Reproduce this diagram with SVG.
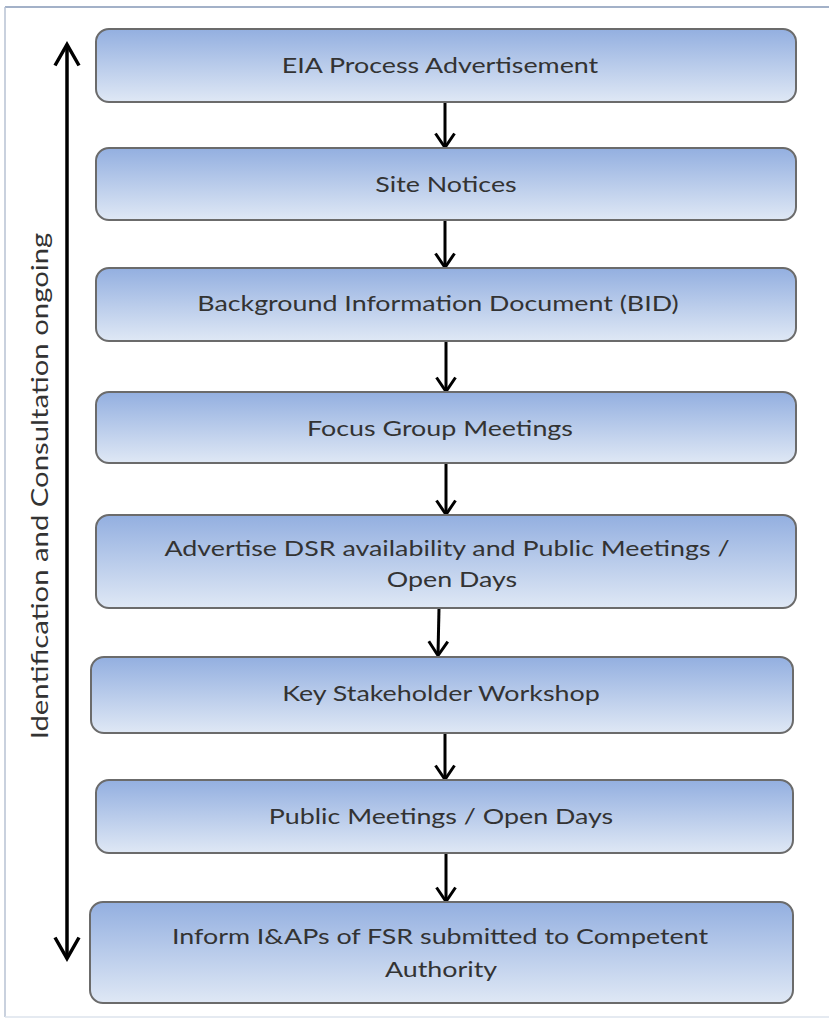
<svg xmlns="http://www.w3.org/2000/svg" width="829" height="1023" viewBox="0 0 829 1023">
<defs>
<linearGradient id="g" x1="0" y1="0" x2="0" y2="1">
<stop offset="0" stop-color="#93afe0"/>
<stop offset="1" stop-color="#dfe8f5"/>
</linearGradient>
<marker id="ah" viewBox="0 0 18 22" refX="15" refY="11" markerWidth="18" markerHeight="22" markerUnits="userSpaceOnUse" orient="auto-start-reverse">
<path d="M1.5,1.5 L15.5,11 L1.5,20.5" fill="none" stroke="#000" stroke-width="3"/>
</marker>
<marker id="ah2" viewBox="0 0 26 28" refX="22" refY="14" markerWidth="26" markerHeight="28" markerUnits="userSpaceOnUse" orient="auto-start-reverse">
<path d="M1.5,2 L22.5,14 L1.5,26" fill="none" stroke="#000" stroke-width="3.5"/>
</marker>
</defs>
<style>
.box{fill:url(#g);stroke:#6b6b6b;stroke-width:2}
.t{font-family:Lato,"Open Sans","Liberation Sans",sans-serif;font-size:22px;fill:#333;text-anchor:middle}
.c{stroke:#000;stroke-width:3;fill:none;marker-end:url(#ah)}
</style>
<rect width="829" height="1023" fill="#fff"/>
<line x1="5" y1="7" x2="829" y2="7" stroke="#a3b1c8" stroke-width="2"/>
<line x1="5" y1="7" x2="5" y2="1017" stroke="#b7c2d3" stroke-width="1.5"/>
<line x1="5" y1="1017" x2="829" y2="1017" stroke="#dde3ec" stroke-width="1.5"/>

<g id="side">
<line x1="67" y1="45" x2="67" y2="958" stroke="#000" stroke-width="3.5" marker-start="url(#ah2)" marker-end="url(#ah2)"/>
<text class="t" transform="translate(48,486) rotate(-90) scale(1.22,1)" x="0" y="0" style="font-size:24px">Identification and Consultation ongoing</text>
</g>

<g id="connectors">
<line class="c" x1="445" y1="102" x2="445" y2="147"/>
<line class="c" x1="445" y1="221" x2="445" y2="267"/>
<line class="c" x1="446" y1="341" x2="446" y2="391"/>
<line class="c" x1="446" y1="463" x2="446" y2="514"/>
<line class="c" x1="439" y1="608" x2="438" y2="655"/>
<line class="c" x1="445" y1="733" x2="445" y2="779"/>
<line class="c" x1="446" y1="853" x2="446" y2="901"/>
</g>

<g id="n1"><rect class="box" x="96" y="29" width="700" height="73" rx="13"/><text class="t" transform="translate(440,73) scale(1.22,1)">EIA Process Advertisement</text></g>
<g id="n2"><rect class="box" x="96" y="148" width="700" height="72" rx="13"/><text class="t" transform="translate(446,192) scale(1.22,1)">Site Notices</text></g>
<g id="n3"><rect class="box" x="96" y="268" width="700" height="73" rx="13"/><text class="t" transform="translate(438,311) scale(1.22,1)">Background Information Document (BID)</text></g>
<g id="n4"><rect class="box" x="96" y="392" width="700" height="71" rx="13"/><text class="t" transform="translate(440,436) scale(1.22,1)">Focus Group Meetings</text></g>
<g id="n5"><rect class="box" x="96" y="515" width="700" height="93" rx="13"/><text class="t" transform="translate(447,556) scale(1.22,1)">Advertise DSR availability and Public Meetings /</text><text class="t" transform="translate(452,587) scale(1.22,1)">Open Days</text></g>
<g id="n6"><rect class="box" x="91" y="657" width="702" height="76" rx="13"/><text class="t" transform="translate(441,701) scale(1.22,1)">Key Stakeholder Workshop</text></g>
<g id="n7"><rect class="box" x="96" y="780" width="697" height="73" rx="13"/><text class="t" transform="translate(441,824) scale(1.22,1)">Public Meetings / Open Days</text></g>
<g id="n8"><rect class="box" x="90" y="902" width="703" height="101" rx="13"/><text class="t" transform="translate(440,944) scale(1.22,1)">Inform I&amp;APs of FSR submitted to Competent</text><text class="t" transform="translate(441,977) scale(1.22,1)">Authority</text></g>
</svg>
